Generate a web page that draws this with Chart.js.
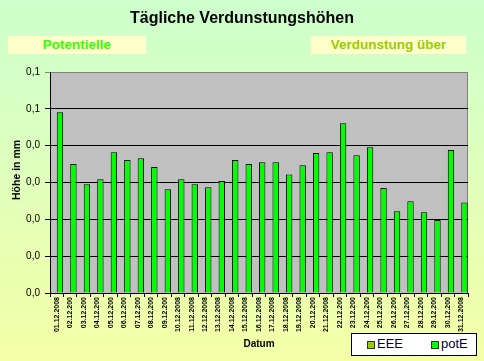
<!DOCTYPE html>
<html><head><meta charset="utf-8">
<script src="https://cdn.jsdelivr.net/npm/chart.js@4/dist/chart.umd.min.js"></script>
<style>
html,body{margin:0;padding:0;}
#wrap{position:relative;width:484px;height:361px;overflow:hidden;
 background:linear-gradient(to bottom,#ccffcc 0%,#e0ffbb 50%,#f4ffa6 100%);font-family:"Liberation Sans",Arial,sans-serif;}
canvas{position:absolute;left:0;top:0;}
.t{position:absolute;white-space:nowrap;}
#title{left:0;width:484px;top:9px;text-align:center;font-weight:bold;font-size:16px;color:#000;}
.sub{position:absolute;top:36px;height:18px;line-height:18px;background:#ffffcc;text-align:center;font-weight:bold;font-size:13.5px;}
#ytitle{left:16px;top:170px;transform:translate(-50%,-50%) rotate(-90deg);font-weight:bold;font-size:10.5px;color:#000;}
#legend{position:absolute;left:351px;top:333px;width:126px;height:23px;background:#fff;border:1px solid #000;box-sizing:border-box;font-size:13px;}
.sw{position:absolute;top:7px;width:6px;height:6px;border:1px solid #333;}
.lt{position:absolute;top:3px;line-height:14px;color:#000033;}
</style></head>
<body><div id="wrap">
<canvas id="c" width="484" height="361"></canvas>
<div id="title" class="t">Tägliche Verdunstungshöhen</div>
<div class="sub" style="left:8px;width:138px;color:#33ff00;">Potentielle</div>
<div class="sub" style="left:311px;width:155px;color:#99cc00;">Verdunstung über</div>
<div id="ytitle" class="t">Höhe in mm</div>
<div id="legend">
 <div class="sw" style="left:15px;background:#99cc00;"></div><div class="lt" style="left:25px;">EEE</div>
 <div class="sw" style="left:79px;background:#00ff00;"></div><div class="lt" style="left:89px;">potE</div>
</div>
</div>
<script>
const categories = ["01.12.2008","02.12.200","03.12.200","04.12.200","05.12.200","06.12.200","07.12.200","08.12.200","09.12.200","10.12.2008","11.12.2008","12.12.2008","13.12.2008","14.12.2008","15.12.2008","16.12.2008","17.12.2008","18.12.2008","19.12.2008","20.12.200","21.12.2008","22.12.200","23.12.200","24.12.200","25.12.200","26.12.200","27.12.200","28.12.200","29.12.200","30.12.200","31.12.2008"];
const potE = [0.0491,0.0350,0.0295,0.0309,0.0382,0.0361,0.0366,0.0342,0.0282,0.0309,0.0295,0.0287,0.0304,0.0361,0.0350,0.0355,0.0355,0.0322,0.0347,0.0380,0.0382,0.0461,0.0374,0.0396,0.0285,0.0222,0.0249,0.0219,0.0198,0.0388,0.0246];
const EEE = categories.map(()=>null);
const yTickLabels = ["0,0","0,0","0,0","0,0","0,0","0,1","0,1"];

const plotBg = {
  id:'plotBg',
  beforeDraw(chart){
    const {ctx,chartArea:a}=chart;
    ctx.save();
    ctx.fillStyle='#c0c0c0';
    ctx.fillRect(a.left,a.top,a.right-a.left,a.bottom-a.top);
    ctx.strokeStyle='#808080';ctx.lineWidth=1;
    ctx.strokeRect(a.left+0.5,a.top+0.5,a.right-a.left-1,a.bottom-a.top);
    ctx.restore();
  }
};

new Chart(document.getElementById('c'),{
  type:'bar',
  data:{labels:categories,datasets:[
    {label:'EEE',data:EEE,backgroundColor:'#99cc00',borderColor:'#000',borderWidth:1},
    {label:'potE',data:potE,backgroundColor:'#00ff00',borderColor:'#000',borderWidth:1}
  ]},
  options:{
    responsive:false,animation:false,
    layout:{padding:{left:0,right:16,top:72,bottom:0}},
    categoryPercentage:0.95,barPercentage:1.0,
    plugins:{legend:{display:false},tooltip:{enabled:false},title:{display:false}},
    scales:{
      x:{
        grid:{display:true,drawOnChartArea:false,drawTicks:true,tickLength:4,color:'#000',offset:true},
        border:{display:true,color:'#000',width:1},
        ticks:{autoSkip:false,minRotation:90,maxRotation:90,padding:0,color:'#000',font:{family:'Liberation Sans',size:7,weight:'bold'}},
        title:{display:true,text:'Datum',color:'#000',font:{family:'Liberation Sans',size:10,weight:'bold'},padding:{top:0,bottom:11}},
        afterFit(s){s.height=68;}
      },
      y:{
        min:0,max:0.06,
        grid:{color:(c)=>c.index===6?'#808080':'#000',tickLength:5,drawTicks:true},
        border:{display:true,color:'#000',width:1},
        ticks:{stepSize:0.01,padding:5,color:'#000',font:{family:'Liberation Sans',size:10},
          callback:(v,i)=>yTickLabels[i]},
        title:{display:false},
        afterFit(s){s.width=50;}
      }
    }
  },
  plugins:[plotBg]
});
</script>
</body></html>
